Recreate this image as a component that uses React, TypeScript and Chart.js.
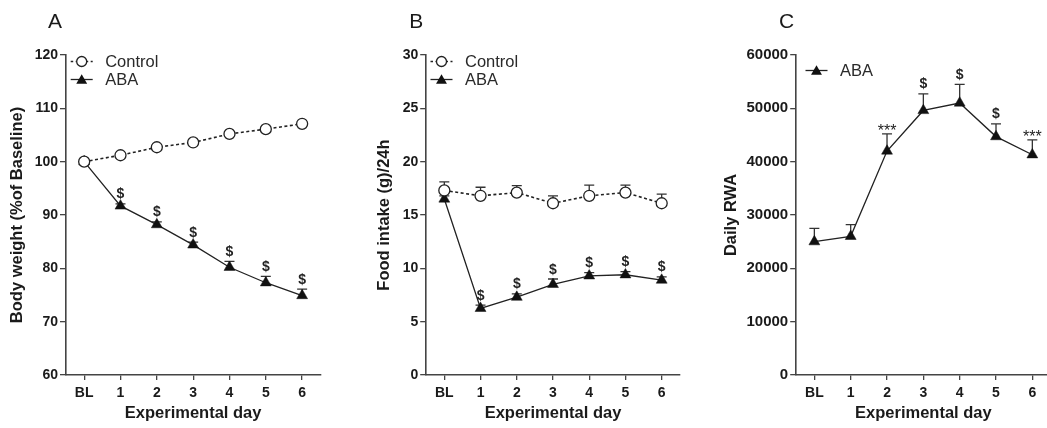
import React, { useEffect, useRef } from 'react';
import { Chart, registerables } from 'chart.js';

Chart.register(...registerables);

// ---------- data ----------
const days = ['BL', '1', '2', '3', '4', '5', '6'];

const weightTicks = [60, 70, 80, 90, 100, 110, 120];
const weightControl = [100, 101.2, 102.7, 103.6, 105.2, 106.1, 107.1];
const weightControlErr = [0, 0, 0, 0, 0, 0, 0];
const weightABA = [100, 91.7, 88.2, 84.4, 80.2, 77.3, 74.9];
const weightABAErr = [0, 0.4, 0.5, 0.5, 1.1, 1.2, 1.2];
const weightABAMarks = ['', '$', '$', '$', '$', '$', '$'];

const foodTicks = [0, 5, 10, 15, 20, 25, 30];
const foodControl = [17.3, 16.8, 17.1, 16.1, 16.8, 17.1, 16.1];
const foodControlErr = [0.8, 0.8, 0.65, 0.7, 1.0, 0.7, 0.85];
const foodABA = [16.5, 6.25, 7.3, 8.5, 9.3, 9.4, 8.9];
const foodABAErr = [0.3, 0.3, 0.3, 0.5, 0.3, 0.3, 0.3];
const foodABAMarks = ['', '$', '$', '$', '$', '$', '$'];

const rwaTicks = [0, 10000, 20000, 30000, 40000, 50000, 60000];
const rwaABA = [25000, 26000, 42000, 49600, 51000, 44700, 41300];
const rwaABAErr = [2500, 2200, 3200, 3100, 3500, 2400, 2800];
const rwaABAMarks = ['', '', '***', '$', '$', '$', '***'];

// ---------- styling ----------
const FONT = '"Liberation Sans", Arial, Helvetica, sans-serif';
const AXIS = '#444';
const TEXT = '#1a1a1a';
const LINE = '#222';
const TRI_R = 6.3;

type LegendItem = { label: string; style: 'circle' | 'triangle'; dashed: boolean; x: number; y: number };

function drawMarker(ctx: CanvasRenderingContext2D, style: string, x: number, y: number) {
  ctx.save();
  ctx.lineWidth = 1.3;
  ctx.strokeStyle = LINE;
  ctx.setLineDash([]);
  if (style === 'circle') {
    ctx.beginPath();
    ctx.arc(x, y, 5, 0, Math.PI * 2);
    ctx.fillStyle = '#fff';
    ctx.fill();
    ctx.stroke();
  } else {
    const r = TRI_R;
    ctx.beginPath();
    ctx.moveTo(x, y - r);
    ctx.lineTo(x + 0.866 * r, y + r / 2);
    ctx.lineTo(x - 0.866 * r, y + r / 2);
    ctx.closePath();
    ctx.fillStyle = '#111';
    ctx.fill();
  }
  ctx.restore();
}

function makePlugins(letter: string, letterX: number, legend: LegendItem[], errs: number[][], marks: string[][]) {
  return [
    {
      id: 'errbars',
      beforeDatasetsDraw(chart: any) {
        const { ctx } = chart;
        const xs = chart.scales.x;
        const ys = chart.scales.y;
        ctx.save();
        ctx.strokeStyle = '#333';
        ctx.lineWidth = 1.3;
        chart.data.datasets.forEach((ds: any, di: number) => {
          const e = errs[di];
          if (!e) return;
          ds.data.forEach((v: number, i: number) => {
            if (!e[i]) return;
            const px = xs.getPixelForValue(i);
            const py = ys.getPixelForValue(v);
            const pt = ys.getPixelForValue(v + e[i]);
            ctx.beginPath();
            ctx.moveTo(px, py);
            ctx.lineTo(px, pt);
            ctx.moveTo(px - 5, pt);
            ctx.lineTo(px + 5, pt);
            ctx.stroke();
          });
        });
        ctx.restore();
      },
      afterDatasetsDraw(chart: any) {
        const { ctx } = chart;
        const xs = chart.scales.x;
        const ys = chart.scales.y;
        ctx.save();
        ctx.fillStyle = '#222';
        ctx.textAlign = 'center';
        ctx.textBaseline = 'alphabetic';
        chart.data.datasets.forEach((ds: any, di: number) => {
          const m = marks[di];
          if (!m) return;
          const e = errs[di] || [];
          ds.data.forEach((v: number, i: number) => {
            if (!m[i]) return;
            const px = xs.getPixelForValue(i);
            const pt = ys.getPixelForValue(v + (e[i] || 0));
            if (m[i] === '***') {
              ctx.font = `16px ${FONT}`;
              ctx.fillText(m[i], px, pt + 2);
            } else {
              ctx.font = `bold 14px ${FONT}`;
              ctx.fillText(m[i], px, pt - 5.5);
            }
          });
        });
        ctx.restore();
      },
      afterDraw(chart: any) {
        const { ctx } = chart;
        ctx.save();
        ctx.fillStyle = TEXT;
        ctx.font = `21px ${FONT}`;
        ctx.textAlign = 'left';
        ctx.textBaseline = 'alphabetic';
        ctx.fillText(letter, letterX, 28);
        legend.forEach((it) => {
          ctx.save();
          ctx.strokeStyle = LINE;
          ctx.lineWidth = it.dashed ? 1.5 : 1.3;
          ctx.setLineDash(it.dashed ? [2.5, 2.5] : []);
          ctx.beginPath();
          ctx.moveTo(it.x - 11, it.y);
          ctx.lineTo(it.x + 11, it.y);
          ctx.stroke();
          ctx.restore();
          drawMarker(ctx, it.style, it.x, it.style === 'triangle' ? it.y + 1 : it.y);
          ctx.fillStyle = '#2a2a2a';
          ctx.font = `16.5px ${FONT}`;
          ctx.textBaseline = 'middle';
          ctx.fillText(it.label, it.x + 23.5, it.y + 0.5);
        });
        ctx.restore();
      },
    },
  ];
}

type PanelProps = {
  left: number;
  width: number;
  letter: string;
  letterX: number;
  yTitle: string;
  yTicks: number[];
  yAxisWidth: number;
  yTitlePad: number;
  yTickSize: number;
  padRight: number;
  datasets: any[];
  errs: number[][];
  marks: string[][];
  legend: LegendItem[];
};

function Panel(p: PanelProps) {
  const ref = useRef<HTMLCanvasElement | null>(null);
  useEffect(() => {
    if (!ref.current) return;
    const chart = new Chart(ref.current, {
      type: 'line',
      data: { labels: days, datasets: p.datasets },
      options: {
        responsive: false,
        animation: false,
        devicePixelRatio: 1,
        layout: { padding: { left: 0, right: p.padRight, top: 55, bottom: 0 } },
        plugins: { legend: { display: false }, tooltip: { enabled: false } },
        scales: {
          x: {
            type: 'category',
            offset: true,
            grid: { offset: false, drawOnChartArea: false, drawTicks: true, tickLength: 5, color: AXIS, lineWidth: 1.3 },
            border: { display: true, color: AXIS, width: 1.6 },
            ticks: { font: { family: FONT, size: 14, weight: 'bold' }, color: TEXT, padding: 5, maxRotation: 0, autoSkip: false },
            title: {
              display: true,
              text: 'Experimental day',
              font: { family: FONT, size: 16.5, weight: 'bold' },
              color: TEXT,
              padding: { top: 0, bottom: 5 },
            },
            afterFit: (s: any) => {
              s.height = 53;
            },
          },
          y: {
            type: 'linear',
            min: p.yTicks[0],
            max: p.yTicks[p.yTicks.length - 1],
            grid: { drawOnChartArea: false, drawTicks: true, tickLength: 6, color: AXIS, lineWidth: 1.3 },
            border: { display: true, color: AXIS, width: 1.6 },
            ticks: {
              stepSize: p.yTicks[1] - p.yTicks[0],
              font: { family: FONT, size: p.yTickSize, weight: 'bold' },
              color: TEXT,
              padding: 2,
              callback: (v: any) => String(v),
            },
            title: {
              display: true,
              text: p.yTitle,
              font: { family: FONT, size: 16.5, weight: 'bold' },
              color: TEXT,
              padding: { top: p.yTitlePad, bottom: 0 },
            },
            afterFit: (s: any) => {
              s.width = p.yAxisWidth;
            },
          },
        },
      } as any,
      plugins: makePlugins(p.letter, p.letterX, p.legend, p.errs, p.marks) as any,
    });
    return () => chart.destroy();
  }, []);
  return (
    <div style={{ position: 'absolute', left: p.left, top: 0, width: p.width, height: 428 }}>
      <canvas ref={ref} width={p.width} height={428} style={{ width: p.width, height: 428, display: 'block' }} />
    </div>
  );
}

const controlStyle = {
  borderColor: LINE,
  borderWidth: 1.6,
  borderDash: [3, 2.5],
  pointStyle: 'circle',
  pointRadius: 5.5,
  pointBorderWidth: 1.3,
  pointBackgroundColor: '#fff',
  pointBorderColor: LINE,
  fill: false,
  tension: 0,
};
const abaStyle = {
  borderColor: LINE,
  borderWidth: 1.3,
  pointStyle: 'triangle',
  pointRadius: TRI_R,
  pointBorderWidth: 0.5,
  pointBackgroundColor: '#111',
  pointBorderColor: '#111',
  fill: false,
  tension: 0,
};

export default function App() {
  return (
    <div style={{ position: 'absolute', left: 0, top: 0, width: 1047, height: 428, overflow: 'hidden', background: '#fff' }}>
      <Panel
        left={0}
        width={350}
        letter="A"
        letterX={48}
        yTitle="Body weight (%of Baseline)"
        yTicks={weightTicks}
        yAxisWidth={66}
        yTitlePad={8}
        yTickSize={14}
        padRight={29.7}
        datasets={[
          { label: 'Control', data: weightControl, ...controlStyle },
          { label: 'ABA', data: weightABA, ...abaStyle },
        ]}
        errs={[weightControlErr, weightABAErr]}
        marks={[[], weightABAMarks]}
        legend={[
          { label: 'Control', style: 'circle', dashed: true, x: 81.7, y: 61.5 },
          { label: 'ABA', style: 'triangle', dashed: false, x: 81.7, y: 79.5 },
        ]}
      />
      <Panel
        left={350}
        width={350}
        letter="B"
        letterX={59.3}
        yTitle="Food intake (g)/24h"
        yTicks={foodTicks}
        yAxisWidth={76.2}
        yTitlePad={25}
        yTickSize={14}
        padRight={20.2}
        datasets={[
          { label: 'Control', data: foodControl, ...controlStyle },
          { label: 'ABA', data: foodABA, ...abaStyle },
        ]}
        errs={[foodControlErr, foodABAErr]}
        marks={[[], foodABAMarks]}
        legend={[
          { label: 'Control', style: 'circle', dashed: true, x: 91.5, y: 61.5 },
          { label: 'ABA', style: 'triangle', dashed: false, x: 91.5, y: 79.5 },
        ]}
      />
      <Panel
        left={700}
        width={360}
        letter="C"
        letterX={79}
        yTitle="Daily RWA"
        yTicks={rwaTicks}
        yAxisWidth={96.2}
        yTitlePad={21.8}
        yTickSize={15}
        padRight={9.5}
        datasets={[{ label: 'ABA', data: rwaABA, ...abaStyle }]}
        errs={[rwaABAErr]}
        marks={[rwaABAMarks]}
        legend={[{ label: 'ABA', style: 'triangle', dashed: false, x: 116.5, y: 70.5 }]}
      />
    </div>
  );
}
